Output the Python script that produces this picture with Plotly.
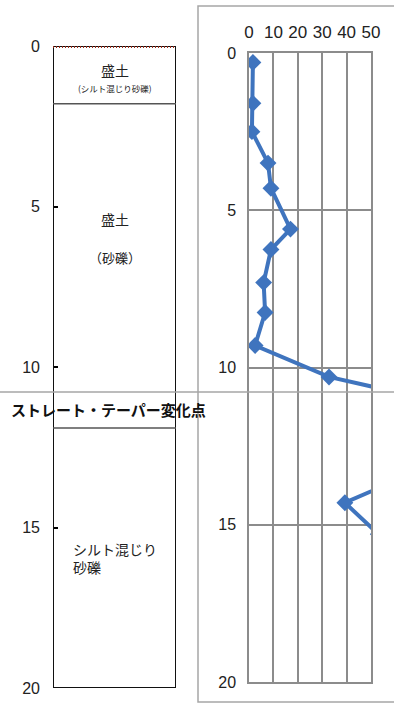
import plotly.graph_objects as go

# --- data ---
depth_ticks = [0, 5, 10, 15, 20]
n_ticks = [0, 10, 20, 30, 40, 50]
# SPT-like profile: N value vs depth (points beyond 50 fall off the chart)
n_values = [1.6, 1.6, 1.2, 7.8, 9.0, 17.0, 9.0, 6.0, 6.6, 2.5, 32.8, 90.0, 90.0, 69.0, 39.3, 53.0]
n_depths = [0.3, 1.6, 2.5, 3.5, 4.3, 5.6, 6.25, 7.3, 8.25, 9.3, 10.3, 11.3, 12.3, 13.3, 14.3, 15.3]
layer_bounds = [0, 1.8, 11.9, 20]
layer_names = ["盛土", "盛土", "シルト混じり<br>砂礫"]
layer_sub = ["(シルト混じり砂礫)", "（砂礫）", ""]
change_point_label = "ストレート・テーパー変化点"

W, H = 394, 704
def py(p):
    return 1 - p / H
def px(p):
    return p / W

fig = go.Figure()

BLUE = "#3F74BE"
fig.add_trace(go.Scatter(
    x=n_values, y=n_depths, mode="lines+markers",
    line=dict(color=BLUE, width=4),
    marker=dict(symbol="diamond", size=13, color=BLUE),
    xaxis="x2", yaxis="y2", showlegend=False, cliponaxis=True,
))
# invisible trace to anchor left axes
fig.add_trace(go.Scatter(x=[0.5], y=[0], mode="markers", marker=dict(opacity=0),
                         xaxis="x", yaxis="y", showlegend=False, hoverinfo="skip"))

tickfont = dict(family="Liberation Sans", size=16, color="#222222")

fig.update_layout(
    width=W, height=H, margin=dict(l=0, r=0, t=0, b=0, pad=0), autosize=False,
    paper_bgcolor="white", plot_bgcolor="white",
    xaxis=dict(domain=[px(53), px(176)], range=[0, 1], visible=False, fixedrange=True,
               automargin=False),
    yaxis=dict(domain=[py(688), py(46)], range=[20, 0], tickvals=depth_ticks,
               ticks="inside", ticklen=5, tickwidth=2, tickcolor="#000",
               showgrid=False, zeroline=False, showline=False, tickfont=tickfont,
               ticklabelstandoff=12, automargin=False),
    xaxis2=dict(domain=[px(249), px(371)], range=[0, 50], tickvals=n_ticks, side="top",
                anchor="y2", showgrid=True, gridcolor="#8C8C8C", gridwidth=1.5,
                showline=True, linecolor="#8C8C8C", linewidth=1.5, mirror=True,
                zeroline=False, ticks="", automargin=False,
                tickfont=dict(family="Liberation Sans", size=17, color="#222222"),
                ticklabelstandoff=6),
    yaxis2=dict(domain=[py(682), py(53)], range=[20, 0], tickvals=depth_ticks, anchor="x2",
                showgrid=True, gridcolor="#8C8C8C", gridwidth=1.5,
                showline=True, linecolor="#8C8C8C", linewidth=1.5, mirror=True,
                zeroline=False, ticks="", tickfont=tickfont, ticklabelstandoff=8,
                automargin=False),
)

shapes = []
# outer chart-area border of right chart
shapes.append(dict(type="rect", xref="paper", yref="paper", x0=px(198), x1=px(400),
                   y0=py(702), y1=py(6), line=dict(color="#A6A6A6", width=1.5)))
# soil column box
shapes.append(dict(type="rect", xref="x", yref="y", x0=0, x1=1, y0=0, y1=20,
                   line=dict(color="#111111", width=2)))
# top dotted line
shapes.append(dict(type="line", xref="x", yref="y", x0=0, x1=1, y0=0, y1=0,
                   line=dict(color="#9A2A18", width=4, dash="1px,2px")))
# layer boundaries
for b in layer_bounds[1:-1]:
    shapes.append(dict(type="line", xref="x", yref="y", x0=0, x1=1, y0=b, y1=b,
                       line=dict(color="#555555", width=1.5)))
# change point line across the whole figure
shapes.append(dict(type="line", xref="paper", yref="paper", x0=0, x1=1, y0=py(392), y1=py(392),
                   line=dict(color="#A6A6A6", width=1.5)))
fig.update_layout(shapes=shapes)

jp = "Noto Sans CJK JP"
ann = []
ann.append(dict(x=0.5, y=0.75, xref="x", yref="y", text=layer_names[0], showarrow=False,
                xanchor="center", font=dict(family=jp, size=14, color="#222")))
ann.append(dict(x=0.5, y=1.3, xref="x", yref="y", text=layer_sub[0], showarrow=False,
                xanchor="center", font=dict(family=jp, size=8.5, color="#222")))
ann.append(dict(x=0.5, y=5.4, xref="x", yref="y", text=layer_names[1], showarrow=False,
                xanchor="center", font=dict(family=jp, size=14, color="#222")))
ann.append(dict(x=0.5, y=6.6, xref="x", yref="y", text=layer_sub[1], showarrow=False,
                xanchor="center", font=dict(family=jp, size=13, color="#222")))
ann.append(dict(x=0.15, y=15.95, xref="x", yref="y", text=layer_names[2], showarrow=False,
                xanchor="left", align="left",
                font=dict(family=jp, size=14, color="#222")))
ann.append(dict(x=px(108), y=py(409), xref="paper", yref="paper", text="<b>" + change_point_label + "</b>",
                showarrow=False, xanchor="center", yanchor="middle",
                font=dict(family=jp, size=15, color="#111")))
fig.update_layout(annotations=ann)

fig.write_html("out.html")
